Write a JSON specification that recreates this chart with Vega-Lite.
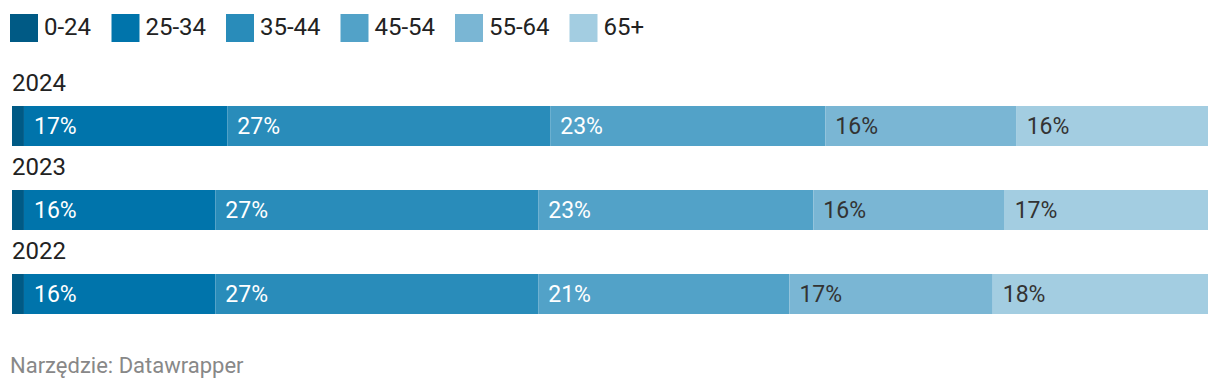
{
  "$schema": "https://vega.github.io/schema/vega-lite/v6.json",
  "autosize": {"type": "none"},
  "padding": {"left": 12, "right": 12, "top": 62, "bottom": 34},
  "width": 1196,
  "height": 296,
  "background": "white",
  "config": {"view": {"stroke": null}, "font": "Roboto"},
  "title": {"text": "Narzędzie: Datawrapper", "orient": "bottom", "anchor": "start", "fontSize": 22, "fontWeight": "normal", "color": "#888888", "offset": -2, "font": "Roboto"},
  "data": {"values": [
    {"year": "2024", "age": "0-24", "order": 1, "value": 1},
    {"year": "2024", "age": "25-34", "order": 2, "value": 17},
    {"year": "2024", "age": "35-44", "order": 3, "value": 27},
    {"year": "2024", "age": "45-54", "order": 4, "value": 23},
    {"year": "2024", "age": "55-64", "order": 5, "value": 16},
    {"year": "2024", "age": "65+", "order": 6, "value": 16},
    {"year": "2023", "age": "0-24", "order": 1, "value": 1},
    {"year": "2023", "age": "25-34", "order": 2, "value": 16},
    {"year": "2023", "age": "35-44", "order": 3, "value": 27},
    {"year": "2023", "age": "45-54", "order": 4, "value": 23},
    {"year": "2023", "age": "55-64", "order": 5, "value": 16},
    {"year": "2023", "age": "65+", "order": 6, "value": 17},
    {"year": "2022", "age": "0-24", "order": 1, "value": 1},
    {"year": "2022", "age": "25-34", "order": 2, "value": 16},
    {"year": "2022", "age": "35-44", "order": 3, "value": 27},
    {"year": "2022", "age": "45-54", "order": 4, "value": 21},
    {"year": "2022", "age": "55-64", "order": 5, "value": 17},
    {"year": "2022", "age": "65+", "order": 6, "value": 18}
  ]},
  "transform": [
    {"stack": "value", "groupby": ["year"], "sort": [{"field": "order", "order": "ascending"}], "as": ["x0", "x1"]},
    {"calculate": "datum.value + '%'", "as": "label"}
  ],
  "encoding": {
    "y": {"field": "year", "type": "nominal", "sort": ["2024", "2023", "2022"], "scale": {"paddingInner": 0.5238, "paddingOuter": 0.5238}, "axis": null}
  },
  "layer": [
    {
      "mark": {"type": "bar"},
      "encoding": {
        "x": {"field": "x0", "type": "quantitative", "scale": {"domain": [0, 100], "nice": false, "zero": false}, "axis": null},
        "x2": {"field": "x1"},
        "color": {
          "field": "age", "type": "nominal",
          "scale": {"domain": ["0-24", "25-34", "35-44", "45-54", "55-64", "65+"], "range": ["#005a85", "#0074ab", "#298cba", "#52a2c8", "#7ab6d4", "#a3cde1"]},
          "legend": {"orient": "none", "legendX": -2, "legendY": -48, "direction": "horizontal", "title": null, "symbolType": "square", "symbolSize": 784, "symbolStrokeWidth": 0, "symbolOpacity": 1, "labelFontSize": 24, "labelColor": "#222222", "labelOffset": 6, "columnPadding": 19.5, "labelFont": "Roboto", "padding": 0}
        }
      }
    },
    {
      "transform": [{"filter": "datum.age != '0-24'"}],
      "mark": {"type": "text", "align": "left", "baseline": "alphabetic", "dx": 10, "dy": 8, "fontSize": 23},
      "encoding": {
        "x": {"field": "x0", "type": "quantitative"},
        "text": {"field": "label"},
        "color": {"condition": {"test": "datum.age == '55-64' || datum.age == '65+'", "value": "#333333"}, "value": "white"}
      }
    },
    {
      "transform": [{"filter": "datum.age == '0-24'"}],
      "mark": {"type": "text", "align": "left", "baseline": "alphabetic", "dy": -35, "fontSize": 24, "color": "#222222"},
      "encoding": {
        "x": {"datum": 0, "type": "quantitative"},
        "text": {"field": "year"}
      }
    }
  ]
}
